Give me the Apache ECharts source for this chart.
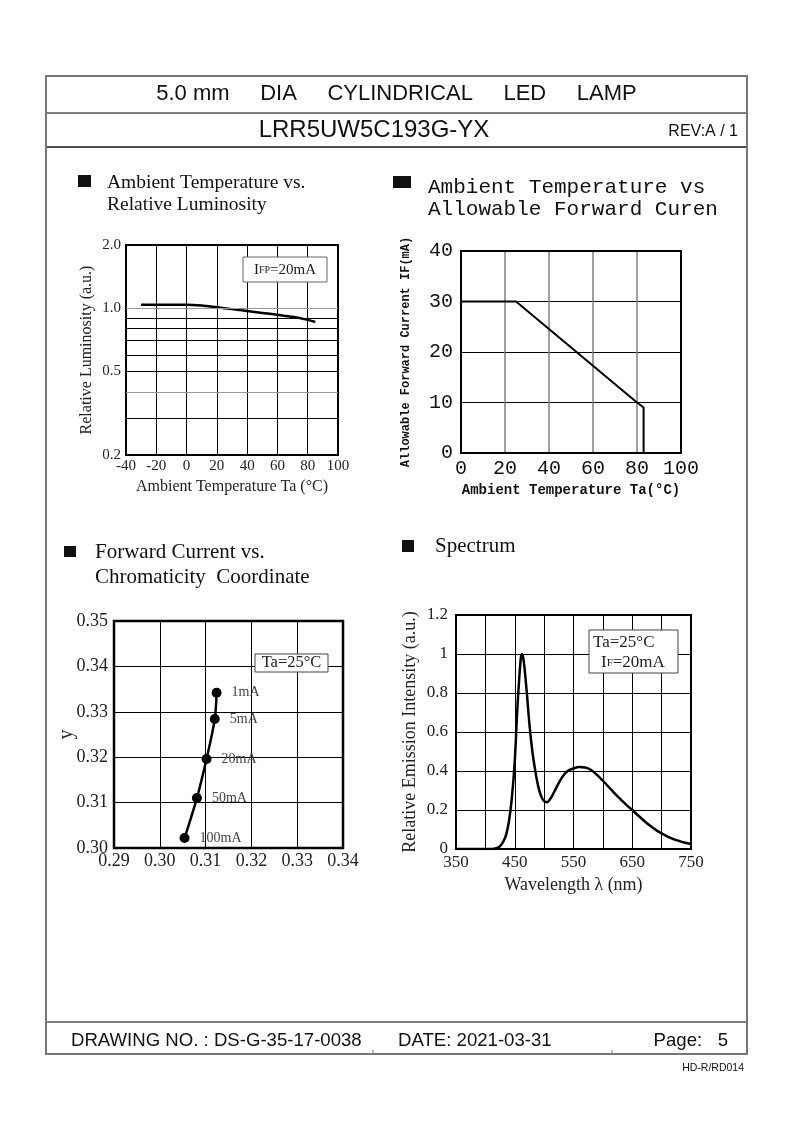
<!DOCTYPE html>
<html><head><meta charset="utf-8">
<script src="https://cdn.jsdelivr.net/npm/echarts@6/dist/echarts.min.js"></script>
<style>html,body{margin:0;padding:0;background:#fff}#c{width:794px;height:1123px}</style>
</head><body><div id="c"></div>
<script>
// ---- Chart 1: Ambient Temperature vs Relative Luminosity ----
const lumTemp  = [-30, -20, -10, 0, 10, 20, 30, 40, 50, 60, 70, 80, 85];
const lumValue = [1.04, 1.04, 1.04, 1.04, 1.03, 1.01, 0.99, 0.97, 0.95, 0.93, 0.91, 0.88, 0.86];
const lumYLabels = [0.2, 0.5, 1.0, 2.0];
const lumYGrid   = [0.3, 0.4, 0.5, 0.6, 0.7, 0.8, 0.9, 1.0];
// ---- Chart 2: Ambient Temperature vs Allowable Forward Current ----
const derateTemp    = [0, 25, 80, 83, 83];
const derateCurrent = [30, 30, 10, 9, 0];
// ---- Chart 3: Forward Current vs Chromaticity Coordinate ----
const chromaX = [0.3124, 0.3120, 0.3102, 0.3081, 0.3054];
const chromaY = [0.3342, 0.3284, 0.3196, 0.3110, 0.3022];
const chromaLabels = ['1mA', '5mA', '20mA', '50mA', '100mA'];
// ---- Chart 4: Spectrum ----
const wavelength = [350, 400, 410, 420, 425, 430, 435, 440, 445, 450, 455, 460, 462, 465, 470, 475, 480, 485, 490, 495, 500, 505, 510, 515, 520, 530, 540, 550, 560, 570, 580, 590, 600, 610, 620, 630, 640, 650, 660, 670, 680, 690, 700, 710, 720, 730, 740, 750];
const intensity  = [0, 0, 0, 0.005, 0.015, 0.035, 0.07, 0.14, 0.26, 0.45, 0.75, 0.97, 1.0, 0.97, 0.82, 0.64, 0.5, 0.4, 0.32, 0.27, 0.245, 0.24, 0.255, 0.28, 0.31, 0.365, 0.4, 0.413, 0.42, 0.418, 0.405, 0.38, 0.35, 0.318, 0.285, 0.255, 0.226, 0.2, 0.172, 0.145, 0.12, 0.098, 0.08, 0.064, 0.051, 0.041, 0.032, 0.025];

const SERIF = '"Liberation Serif","Times New Roman",serif';
const SANS = '"Liberation Sans",Arial,sans-serif';
const MONO = '"Liberation Mono","Courier New",monospace';

function T(x, y, text, size, family, opts) {
  opts = opts || {};
  return {
    type: 'text', x: x, y: y, z: 100,
    style: Object.assign({
      text: text, fontSize: size, fontFamily: family, fill: opts.fill || '#111',
      fontWeight: opts.weight || 'normal',
      textAlign: opts.align || 'left', align: opts.align || 'left',
      textVerticalAlign: 'middle', verticalAlign: 'middle'
    }, opts.style || {})
  };
}
function R(x, y, w, h, fill, stroke, lw) {
  return { type: 'rect', z: 99, shape: { x: x, y: y, width: w, height: h },
    style: { fill: fill || 'none', stroke: stroke || null, lineWidth: lw || 0 } };
}
function L(x1, y1, x2, y2, color, w) {
  return { type: 'line', z: 98, shape: { x1: x1, y1: y1, x2: x2, y2: y2 },
    style: { stroke: color, lineWidth: w } };
}

const graphics = [
  // page frame
  R(46, 76, 701, 978, 'none', '#777', 2),
  L(46, 113, 747, 113, '#555', 1.5),
  L(46, 147, 747, 147, '#111', 1.5),
  L(46, 1022, 747, 1022, '#555', 1.5),
  L(373, 1050, 373, 1054, '#777', 1),
  L(612, 1050, 612, 1054, '#777', 1),
  // header
  T(396.5, 94, '5.0 mm     DIA     CYLINDRICAL     LED     LAMP', 22, SANS, { align: 'center' }),
  T(374, 130, 'LRR5UW5C193G-YX', 24, SANS, { align: 'center' }),
  T(738, 132, 'REV:A / 1', 16, SANS, { align: 'right' }),
  // footer
  T(71, 1041, 'DRAWING NO. : DS-G-35-17-0038', 18.6, SANS),
  T(398, 1041, 'DATE: 2021-03-31', 18.6, SANS),
  T(728, 1041, 'Page:   5', 18.6, SANS, { align: 'right' }),
  T(744, 1068, 'HD-R/RD014', 10.5, SANS, { align: 'right' }),
  // section titles
  R(78, 175, 13, 12, '#111'),
  T(107, 183, 'Ambient Temperature vs.', 19.5, SERIF),
  T(107, 205, 'Relative Luminosity', 19.5, SERIF),
  R(393, 176, 18, 12, '#111'),
  T(428, 187, 'Ambient Temperature vs', 21, MONO),
  T(428, 209, 'Allowable Forward Curen', 21, MONO),
  R(64, 546, 12, 11, '#111'),
  T(95, 552, 'Forward Current vs.', 21, SERIF),
  T(95, 577, 'Chromaticity  Coordinate', 21, SERIF),
  R(402, 540, 12, 12, '#111'),
  T(435, 546, 'Spectrum', 21, SERIF),
  // annotation boxes
  R(243, 257, 84, 25, '#fff', '#666', 1),
  { type: 'text', x: 285, y: 270, z: 101,
    style: { text: '{a|I}{s|FP}{a|=20mA}', textAlign: 'center', align: 'center',
      textVerticalAlign: 'middle', verticalAlign: 'middle',
      rich: { a: { fontSize: 15, fontFamily: SERIF, fill: '#222', color: '#222' },
              s: { fontSize: 10, fontFamily: SERIF, fill: '#222', color: '#222' } } } },
  R(255, 654, 73, 18, '#fff', '#444', 1),
  T(291.5, 663, 'Ta=25°C', 16.5, SERIF, { align: 'center', fill: '#222' }),
  R(589, 630, 89, 43, '#fff', '#444', 1),
  T(593, 643, 'Ta=25°C', 17, SERIF, { fill: '#222' }),
  { type: 'text', x: 601, y: 663, z: 101,
    style: { text: '{a|I}{s|F}{a|=20mA}', textAlign: 'left', align: 'left',
      textVerticalAlign: 'middle', verticalAlign: 'middle',
      rich: { a: { fontSize: 17, fontFamily: SERIF, fill: '#222', color: '#222' },
              s: { fontSize: 11, fontFamily: SERIF, fill: '#222', color: '#222' } } } }
];

function axisBase(extra) {
  return Object.assign({
    type: 'value', axisLine: { show: false }, axisTick: { show: false },
    nameLocation: 'middle', nameMoveOverlap: false
  }, extra);
}

const option = {
  animation: false,
  backgroundColor: '#fff',
  grid: [
    { left: 126, top: 245, width: 212, height: 210, show: true, borderColor: '#000', borderWidth: 2, backgroundColor: 'transparent', z: 5 },
    { left: 461, top: 251, width: 220, height: 202, show: true, borderColor: '#000', borderWidth: 2, backgroundColor: 'transparent', z: 5 },
    { left: 114, top: 621, width: 229, height: 227, show: true, borderColor: '#000', borderWidth: 2.5, backgroundColor: 'transparent', z: 5 },
    { left: 456, top: 615, width: 235, height: 234, show: true, borderColor: '#000', borderWidth: 2, backgroundColor: 'transparent', z: 5 }
  ],
  xAxis: [
    axisBase({ gridIndex: 0, min: -40, max: 100, interval: 20,
      splitLine: { show: true, lineStyle: { color: '#000', width: 1 } },
      axisLabel: { fontFamily: SERIF, fontSize: 15, color: '#222', margin: 4 },
      name: 'Ambient Temperature Ta (°C)', nameGap: 24,
      nameTextStyle: { fontFamily: SERIF, fontSize: 16, color: '#222' } }),
    axisBase({ gridIndex: 1, min: 0, max: 100, interval: 20,
      splitLine: { show: true, lineStyle: { color: '#808080', width: 1.5 } },
      axisLabel: { fontFamily: MONO, fontSize: 20, color: '#111', margin: 6 },
      name: 'Ambient Temperature Ta(°C)', nameGap: 30,
      nameTextStyle: { fontFamily: MONO, fontSize: 14, fontWeight: 'bold', color: '#111' } }),
    axisBase({ gridIndex: 2, min: 0.29, max: 0.34, interval: 0.01,
      splitLine: { show: true, lineStyle: { color: '#000', width: 1 } },
      axisLabel: { fontFamily: SERIF, fontSize: 18, color: '#222', margin: 4, formatter: v => v.toFixed(2) } }),
    axisBase({ gridIndex: 3, min: 350, max: 750, interval: 50,
      splitLine: { show: true, lineStyle: { color: '#000', width: 1 } },
      axisLabel: { fontFamily: SERIF, fontSize: 17, color: '#222', margin: 5,
        formatter: v => ((v - 350) % 100 === 0 ? String(v) : '') },
      name: 'Wavelength λ (nm)', nameGap: 27,
      nameTextStyle: { fontFamily: SERIF, fontSize: 18, color: '#222' } })
  ],
  yAxis: [
    axisBase({ gridIndex: 0, type: 'log', logBase: 10, min: 0.2, max: 2,
      splitLine: { show: false },
      axisLabel: { fontFamily: SERIF, fontSize: 15, color: '#222', margin: 5,
        customValues: lumYLabels, formatter: v => Number(v).toFixed(1) },
      name: 'Relative Luminosity (a.u.)', nameGap: 31,
      nameTextStyle: { fontFamily: SERIF, fontSize: 16, color: '#222' } }),
    axisBase({ gridIndex: 1, min: 0, max: 40, interval: 10,
      splitLine: { show: true, lineStyle: { color: '#000', width: 1 } },
      axisLabel: { fontFamily: MONO, fontSize: 20, color: '#111', margin: 8 },
      name: 'Allowable Forward Current IF(mA)', nameGap: 49,
      nameTextStyle: { fontFamily: MONO, fontSize: 12, fontWeight: 'bold', color: '#111' } }),
    axisBase({ gridIndex: 2, min: 0.30, max: 0.35, interval: 0.01,
      splitLine: { show: true, lineStyle: { color: '#000', width: 1 } },
      axisLabel: { fontFamily: SERIF, fontSize: 18, color: '#222', margin: 6, formatter: v => v.toFixed(2) },
      name: 'y', nameGap: 37,
      nameTextStyle: { fontFamily: SERIF, fontSize: 20, color: '#222' } }),
    axisBase({ gridIndex: 3, min: 0, max: 1.2, interval: 0.2,
      splitLine: { show: true, lineStyle: { color: '#000', width: 1 } },
      axisLabel: { fontFamily: SERIF, fontSize: 17, color: '#222', margin: 8 },
      name: 'Relative Emission Intensity (a.u.)', nameGap: 37,
      nameTextStyle: { fontFamily: SERIF, fontSize: 18, color: '#222' } })
  ],
  series: [
    { type: 'line', xAxisIndex: 0, yAxisIndex: 0, smooth: 0.3, symbol: 'none',
      lineStyle: { color: '#000', width: 2.5 },
      data: lumTemp.map((t, i) => [t, lumValue[i]]),
      markLine: { silent: true, symbol: 'none', label: { show: false }, animation: false,
        data: lumYGrid.map(v => ({ yAxis: v,
          lineStyle: { type: 'solid', width: 1, color: (v === 1.0 || v === 0.4) ? '#999' : '#000' } })) } },
    { type: 'line', xAxisIndex: 1, yAxisIndex: 1, symbol: 'none',
      lineStyle: { color: '#000', width: 2 },
      data: derateTemp.map((t, i) => [t, derateCurrent[i]]) },
    { type: 'line', xAxisIndex: 2, yAxisIndex: 2, smooth: 0.3,
      symbol: 'circle', symbolSize: 10, itemStyle: { color: '#000' },
      lineStyle: { color: '#000', width: 2.5 },
      label: { show: true, position: 'right', distance: 10, fontFamily: SERIF, fontSize: 14, color: '#444',
        formatter: p => chromaLabels[p.dataIndex] },
      data: chromaX.map((x, i) => [x, chromaY[i]]) },
    { type: 'line', xAxisIndex: 3, yAxisIndex: 3, smooth: 0.35, symbol: 'none',
      lineStyle: { color: '#000', width: 2.5 },
      data: wavelength.map((w, i) => [w, intensity[i]]) }
  ],
  graphic: graphics
};

const chart = echarts.init(document.getElementById('c'), null, { renderer: 'canvas', width: 794, height: 1123 });
chart.setOption(option);
</script>
</body></html>
